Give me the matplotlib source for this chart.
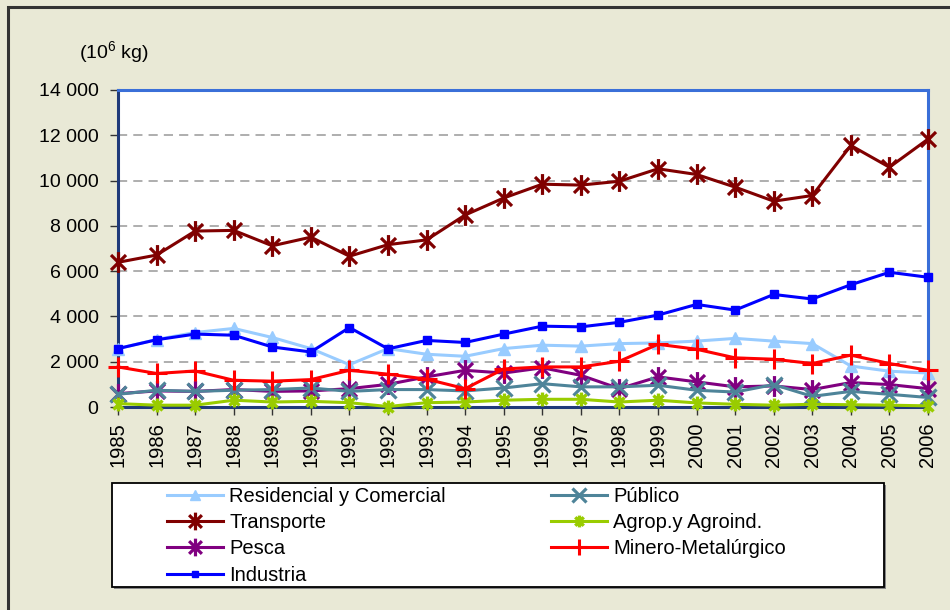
import matplotlib
matplotlib.use("Agg")
import matplotlib.pyplot as plt
from matplotlib.path import Path
from matplotlib.patches import Rectangle
from matplotlib.ticker import FuncFormatter

plt.rcParams['font.family'] = ['Liberation Sans', 'DejaVu Sans']
plt.rcParams['mathtext.fontset'] = 'custom'
plt.rcParams['mathtext.rm'] = 'Liberation Sans'
plt.rcParams['mathtext.it'] = 'Liberation Sans'

years = list(range(1985, 2007))

residencial = [2580, 2980, 3290, 3470, 3070, 2580, 1870, 2580, 2330, 2240, 2580,
               2730, 2690, 2800, 2830, 2910, 3030, 2910, 2800, 1810, 1580, 1500]
transporte = [6390, 6710, 7770, 7800, 7120, 7500, 6660, 7170, 7380, 8480, 9230,
              9840, 9800, 9970, 10520, 10270, 9710, 9090, 9340, 11550, 10590, 11830]
pesca = [590, 710, 690, 770, 690, 710, 810, 1000, 1330, 1620, 1500,
         1730, 1400, 810, 1330, 1110, 890, 930, 770, 1080, 990, 810]
industria = [2580, 2970, 3220, 3170, 2650, 2430, 3510, 2570, 2940, 2850, 3220,
             3570, 3540, 3740, 4060, 4530, 4280, 4970, 4770, 5400, 5950, 5730]
publico = [560, 740, 690, 740, 770, 840, 690, 770, 770, 710, 840,
           1030, 890, 890, 960, 740, 660, 990, 470, 690, 560, 420]
agrop = [150, 80, 80, 300, 220, 250, 190, 20, 190, 220, 300,
         340, 340, 220, 300, 180, 120, 80, 120, 100, 80, 50]
minero = [1770, 1480, 1590, 1180, 1140, 1210, 1620, 1450, 1230, 810, 1680,
          1770, 1770, 2020, 2770, 2550, 2170, 2110, 1920, 2290, 1920, 1620]

labels = ["Residencial y Comercial", "Transporte", "Pesca", "Industria",
          "Público", "Agrop.y Agroind.", "Minero-Metalúrgico"]
yticks = [0, 2000, 4000, 6000, 8000, 10000, 12000, 14000]

W, H = 950, 610
bg = "#E9E9D6"
star = Path([(0, -1), (0, 1), (-0.72, -0.72), (0.72, 0.72), (-0.72, 0.72), (0.72, -0.72)],
            [Path.MOVETO, Path.LINETO] * 3)

fig = plt.figure(figsize=(9.5, 6.1), dpi=100, facecolor=bg)
# outer frame (top & left edges visible)
fig.patches.append(Rectangle((8.3 / W, -0.2), 2, 1 - 7.5 / H + 0.2, transform=fig.transFigure,
                             fill=False, edgecolor="#333333", linewidth=2.2, zorder=0))

ax = fig.add_axes([118 / W, 1 - 407 / H, (928 - 118) / W, (407 - 90) / H])
ax.set_facecolor("white")

specs = [
    (residencial, "#99CCFF", "^", 8.5, 1.0, 2.2),
    (transporte, "#800000", star, 15, 2.3, 2.2),
    (pesca, "#800080", star, 15, 2.3, 2.2),
    (industria, "#0000FF", "s", 5.5, 1.0, 2.2),
    (publico, "#4E8499", "x", 12, 2.3, 2.2),
    (agrop, "#99CC00", star, 10, 2.4, 2.2),
    (minero, "#FF0000", "+", 14, 2.2, 2.2),
]
handles = []
for data, col, mk, ms, mew, lw in specs:
    h, = ax.plot(years, data, color=col, marker=mk, markersize=ms, markeredgewidth=mew,
                 markerfacecolor=col, markeredgecolor=col, linewidth=lw, clip_on=False,
                 zorder=3)
    handles.append(h)

ax.set_xlim(1985, 2006)
ax.set_ylim(0, 14000)
ax.set_xticks(years)
ax.set_xticklabels([str(y) for y in years], rotation=90, fontsize=14.5)
ax.set_yticks(yticks)
ax.yaxis.set_major_formatter(FuncFormatter(lambda v, p: f"{int(v):,}".replace(",", " ")))
ax.tick_params(axis='y', labelsize=14, length=6, width=1, color="#333333", direction='out', pad=8)
ax.tick_params(axis='x', length=6, width=1, color="#333333", direction='out', pad=5)
for y in yticks[1:-1]:
    ax.axhline(y, color="#999999", linewidth=1.1, linestyle=(0, (6, 4)), zorder=1)

ax.spines['left'].set_color("#1F3A7A")
ax.spines['bottom'].set_color("#1F3A7A")
ax.spines['top'].set_color("#3A6FD8")
ax.spines['right'].set_color("#3A6FD8")
for s in ax.spines.values():
    s.set_linewidth(2.2)
    s.set_zorder(2)

fig.text(114 / W, 1 - 52 / H, "(10$^6$ kg)", ha='center', va='center', fontsize=14)

# legend box
fig.patches.append(Rectangle((114 / W, 1 - 589 / H), (886 - 114) / W, (589 - 485) / H,
                             transform=fig.transFigure, facecolor="#888888", edgecolor="none", zorder=1))
fig.patches.append(Rectangle((112 / W, 1 - 587 / H), (884 - 112) / W, (587 - 483) / H,
                             transform=fig.transFigure, facecolor="white", edgecolor="black",
                             linewidth=1.3, zorder=2))
leg = fig.legend(handles, labels, ncol=2, loc='upper left', frameon=False,
                 bbox_to_anchor=(167 / W, 1 - 487 / H), borderpad=0, borderaxespad=0,
                 fontsize=14.5, handlelength=2.8, handletextpad=0.3, labelspacing=0.36,
                 columnspacing=5.2, markerscale=0.85)
leg.set_zorder(5)

fig.savefig("out.png", dpi=100, facecolor=bg)
